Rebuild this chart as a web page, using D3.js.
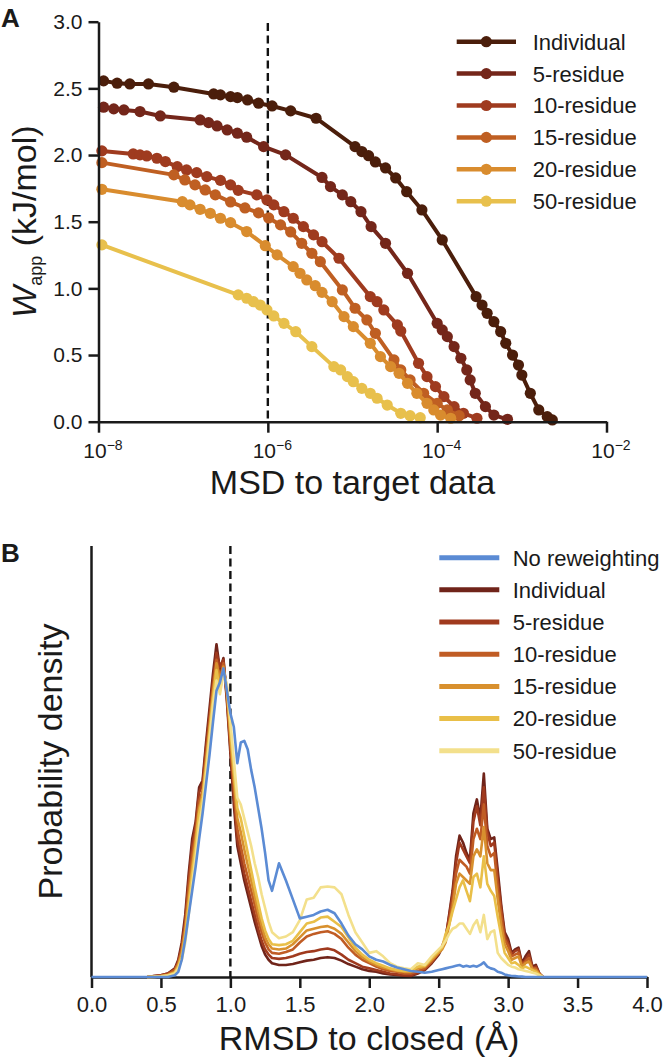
<!DOCTYPE html>
<html><head><meta charset="utf-8">
<script src="https://cdn.jsdelivr.net/npm/d3@7"></script>
<style>
html,body{margin:0;padding:0;background:#fff;}
svg{display:block;font-family:"Liberation Sans",Arial,Helvetica,sans-serif;}
</style></head><body>
<svg id="chart" width="666" height="1062"></svg>
<script>
// ---------------- Panel A data (log10 MSD, W_app kJ/mol) ----------------
const seriesNamesA = ["Individual","5-residue","10-residue","15-residue","20-residue","50-residue"];
const colorsA = ["#4b1e0b","#74261a","#9f3b1f","#bf5f22","#d98c2e","#e8c04c"];

const individualLogMSD = [-7.94,-7.78,-7.63,-7.41,-7.11,-6.64,-6.56,-6.44,-6.36,-6.24,-6.11,-5.95,-5.73,-5.43,-4.97,-4.89,-4.81,-4.73,-4.61,-4.49,-4.36,-4.18,-3.94,-3.54,-3.47,-3.41,-3.33,-3.25,-3.19,-3.11,-3.04,-3.00,-2.90,-2.80,-2.70,-2.64];
const individualW = [2.556,2.539,2.533,2.533,2.509,2.458,2.451,2.438,2.431,2.413,2.389,2.368,2.331,2.276,2.063,2.026,1.995,1.948,1.903,1.828,1.725,1.588,1.363,0.938,0.875,0.813,0.750,0.675,0.588,0.500,0.425,0.350,0.213,0.088,0.038,0.013];

const res5LogMSD = [-7.94,-7.82,-7.70,-7.51,-7.27,-6.80,-6.70,-6.60,-6.48,-6.36,-6.25,-6.05,-5.79,-5.36,-5.26,-5.12,-5.02,-4.90,-4.78,-4.61,-4.35,-4.00,-3.94,-3.88,-3.80,-3.72,-3.65,-3.61,-3.55,-3.43,-3.33,-3.17];
const res5W = [2.359,2.346,2.338,2.326,2.293,2.263,2.243,2.218,2.188,2.164,2.134,2.063,2.001,1.832,1.763,1.701,1.650,1.575,1.463,1.338,1.113,0.738,0.688,0.638,0.563,0.476,0.388,0.313,0.213,0.113,0.050,0.018];

const res10LogMSD = [-7.96,-7.59,-7.51,-7.43,-7.31,-7.21,-7.07,-6.96,-6.84,-6.72,-6.56,-6.44,-6.35,-6.13,-6.01,-5.93,-5.81,-5.70,-5.58,-5.46,-5.36,-5.16,-4.79,-4.71,-4.63,-4.47,-4.43,-4.22,-4.12,-4.02,-3.92,-3.80,-3.69,-3.53];
const res10W = [2.031,2.008,2.001,1.993,1.976,1.951,1.913,1.888,1.868,1.838,1.810,1.776,1.735,1.701,1.663,1.626,1.575,1.526,1.463,1.401,1.350,1.226,0.938,0.900,0.838,0.726,0.680,0.438,0.338,0.263,0.188,0.113,0.063,0.026];

const res15LogMSD = [-7.96,-7.11,-6.98,-6.86,-6.74,-6.62,-6.44,-6.27,-6.11,-5.99,-5.85,-5.73,-5.60,-5.48,-5.38,-5.12,-4.97,-4.83,-4.73,-4.51,-4.43,-4.32,-4.16,-4.00,-3.88,-3.74];
const res15W = [1.943,1.851,1.813,1.776,1.738,1.701,1.648,1.603,1.566,1.528,1.476,1.423,1.338,1.263,1.200,0.988,0.851,0.763,0.663,0.463,0.388,0.313,0.213,0.138,0.088,0.045];

const res20LogMSD = [-7.96,-7.01,-6.92,-6.80,-6.68,-6.56,-6.44,-6.25,-6.03,-5.89,-5.70,-5.62,-5.54,-5.44,-5.36,-5.24,-5.10,-4.99,-4.79,-4.67,-4.55,-4.45,-4.35,-4.24,-4.12,-4.04,-3.96,-3.84];
const res20W = [1.743,1.650,1.626,1.593,1.563,1.526,1.493,1.426,1.320,1.251,1.163,1.113,1.063,1.020,0.970,0.900,0.788,0.713,0.588,0.488,0.413,0.363,0.288,0.213,0.138,0.088,0.050,0.026];

const res50LogMSD = [-7.96,-6.35,-6.25,-6.17,-6.09,-6.01,-5.93,-5.81,-5.67,-5.48,-5.22,-5.14,-5.06,-4.99,-4.89,-4.79,-4.71,-4.59,-4.43,-4.32,-4.20];
const res50W = [1.326,0.951,0.926,0.900,0.875,0.838,0.793,0.738,0.675,0.563,0.413,0.388,0.338,0.300,0.250,0.213,0.176,0.125,0.063,0.045,0.030];

const yTicksA = [0,0.5,1.0,1.5,2.0,2.5,3.0];
const xTicksA = [1e-8,1e-6,1e-4,1e-2];
const xTickExpA = ["−8","−6","−4","−2"];
const targetMSD = 1e-6;

// ---------------- Panel B data (RMSD grid, probability density) ----------------
const seriesNamesB = ["No reweighting","Individual","5-residue","10-residue","15-residue","20-residue","50-residue"];
const colorsB = ["#5b8bd4","#70241a","#a03a1e","#c05c24","#d8902e","#e9bf48","#f3e08c"];
const xTicksB = [0,0.5,1.0,1.5,2.0,2.5,3.0,3.5,4.0];
const targetRMSD = 1.0;

const rmsdGrid = [0.0,
 0.40,0.45,0.50,0.55,0.60,
 0.625,0.65,0.675,0.70,0.725,0.75,0.775,0.80,0.825,0.85,0.875,0.90,0.925,0.95,0.975,1.00,1.025,1.05,1.075,1.10,1.125,1.15,1.175,1.20,1.225,1.25,1.275,1.30,
 1.35,1.40,1.45,1.50,1.55,1.60,1.65,1.70,1.75,1.80,1.85,1.90,1.95,2.00,2.05,2.10,2.15,2.20,2.25,2.30,2.35,2.40,2.45,2.50,
 2.525,2.55,2.575,2.60,2.625,2.65,2.675,2.70,2.725,2.75,2.775,2.80,2.825,2.85,2.875,2.90,2.925,2.95,2.975,3.00,3.025,3.05,3.075,3.10,3.125,3.15,3.175,3.20,3.225,3.25,
 4.0];

const densNoReweighting = [0,
 0,0,0,0,0.01,
 0.03,0.10,0.22,0.36,0.50,0.64,0.80,0.95,1.12,1.29,1.48,1.66,1.71,1.79,1.66,1.53,1.45,1.24,1.36,1.37,1.32,1.20,1.10,0.98,0.86,0.72,0.56,0.50,
 0.66,0.56,0.45,0.34,0.35,0.36,0.38,0.39,0.37,0.31,0.24,0.19,0.16,0.12,0.10,0.09,0.07,0.055,0.045,0.035,0.03,0.025,0.03,0.04,
 0.045,0.05,0.055,0.06,0.065,0.07,0.06,0.065,0.06,0.065,0.06,0.07,0.085,0.06,0.05,0.045,0.03,0.025,0.015,0.01,0.006,0.005,0.003,0.002,0,0,0,0,0,0,
 0];
const densIndividual = [null,
 0,0.005,0.01,0.02,0.05,
 0.10,0.20,0.36,0.60,0.80,0.90,1.10,1.14,1.36,1.56,1.76,1.93,1.78,1.85,1.60,1.30,1.00,0.76,0.66,0.56,0.48,0.40,0.32,0.25,0.18,0.13,0.10,0.08,
 0.07,0.07,0.075,0.085,0.095,0.10,0.11,0.115,0.11,0.095,0.075,0.06,0.045,0.035,0.03,0.02,0.015,0.012,0.008,0.006,0.02,0.04,0.08,0.13,
 0.17,0.22,0.36,0.50,0.70,0.82,0.78,0.72,0.68,0.95,1.03,0.92,1.18,0.86,0.80,0.81,0.62,0.42,0.26,0.22,0.14,0.16,0.17,0.08,0.12,0.15,0.06,0.07,0.02,0,
 null];
const densRes5 = [null,
 0,0.005,0.01,0.02,0.045,
 0.09,0.18,0.33,0.56,0.76,0.88,1.07,1.12,1.33,1.52,1.72,1.88,1.80,1.84,1.62,1.33,1.05,0.80,0.70,0.60,0.52,0.44,0.36,0.28,0.21,0.16,0.13,0.11,
 0.105,0.11,0.12,0.135,0.145,0.15,0.16,0.165,0.155,0.13,0.10,0.08,0.06,0.05,0.04,0.03,0.02,0.015,0.01,0.01,0.025,0.045,0.085,0.14,
 0.18,0.23,0.35,0.48,0.66,0.78,0.74,0.70,0.66,0.90,0.99,0.88,1.10,0.84,0.76,0.78,0.58,0.40,0.24,0.20,0.13,0.15,0.16,0.07,0.10,0.13,0.05,0.06,0.02,0,
 null];
const densRes10 = [null,
 0,0.003,0.008,0.015,0.04,
 0.08,0.16,0.30,0.52,0.70,0.84,1.02,1.08,1.28,1.48,1.68,1.84,1.74,1.82,1.64,1.36,1.10,0.86,0.76,0.66,0.58,0.50,0.42,0.33,0.26,0.20,0.16,0.14,
 0.135,0.145,0.16,0.20,0.235,0.25,0.26,0.265,0.25,0.22,0.17,0.13,0.10,0.08,0.06,0.045,0.035,0.03,0.02,0.02,0.035,0.05,0.09,0.14,
 0.17,0.21,0.32,0.44,0.60,0.68,0.66,0.64,0.60,0.80,0.86,0.80,1.00,0.76,0.70,0.72,0.52,0.36,0.22,0.18,0.12,0.13,0.14,0.07,0.09,0.11,0.05,0.05,0.02,0,
 null];
const densRes15 = [null,
 0,0.002,0.005,0.012,0.03,
 0.07,0.14,0.27,0.46,0.64,0.80,0.98,1.06,1.25,1.45,1.65,1.82,1.72,1.80,1.66,1.40,1.15,0.92,0.84,0.74,0.65,0.56,0.47,0.38,0.30,0.23,0.19,0.165,
 0.16,0.165,0.19,0.23,0.27,0.28,0.29,0.295,0.28,0.25,0.20,0.15,0.115,0.09,0.07,0.055,0.045,0.035,0.03,0.03,0.05,0.06,0.10,0.14,
 0.16,0.20,0.30,0.40,0.54,0.60,0.58,0.56,0.54,0.70,0.74,0.70,0.87,0.66,0.62,0.62,0.45,0.30,0.19,0.15,0.10,0.11,0.12,0.06,0.08,0.09,0.045,0.04,0.015,0,
 null];
const densRes20 = [null,
 0,0.002,0.004,0.01,0.025,
 0.06,0.12,0.24,0.42,0.60,0.76,0.95,1.04,1.22,1.42,1.62,1.78,1.66,1.78,1.68,1.44,1.20,0.98,0.92,0.82,0.72,0.62,0.52,0.43,0.34,0.27,0.22,0.19,
 0.185,0.19,0.21,0.26,0.31,0.32,0.345,0.35,0.32,0.29,0.23,0.17,0.13,0.10,0.08,0.065,0.05,0.04,0.035,0.035,0.06,0.065,0.11,0.15,
 0.17,0.25,0.30,0.38,0.45,0.52,0.56,0.50,0.44,0.58,0.60,0.52,0.70,0.54,0.50,0.47,0.35,0.24,0.14,0.11,0.08,0.085,0.07,0.05,0.06,0.05,0.04,0.03,0.012,0,
 null];
const densRes50 = [null,
 0,0.001,0.003,0.008,0.02,
 0.05,0.10,0.20,0.36,0.54,0.70,0.88,1.00,1.18,1.38,1.58,1.72,1.64,1.76,1.70,1.48,1.26,1.04,1.00,0.92,0.84,0.76,0.66,0.58,0.48,0.40,0.32,0.26,
 0.225,0.235,0.26,0.33,0.45,0.46,0.52,0.525,0.52,0.48,0.36,0.26,0.20,0.14,0.15,0.12,0.08,0.06,0.05,0.045,0.08,0.07,0.12,0.16,
 0.18,0.21,0.25,0.28,0.29,0.31,0.31,0.28,0.25,0.30,0.33,0.26,0.36,0.22,0.26,0.27,0.14,0.11,0.09,0.07,0.06,0.055,0.045,0.04,0.035,0.03,0.025,0.02,0.01,0,
 null];

// ---------------- Drawing ----------------
const svg = d3.select("#chart");
const INK = "#1a1a1a";

// ===== Panel A =====
const xA = d3.scaleLog().domain([1e-8,1e-2]).range([98.5,606.5]);
const yA = d3.scaleLinear().domain([0,3]).range([421.7,21.7]);
const gA = svg.append("g");

const logsA = [individualLogMSD,res5LogMSD,res10LogMSD,res15LogMSD,res20LogMSD,res50LogMSD];
const wsA = [individualW,res5W,res10W,res15W,res20W,res50W];
const seriesA = seriesNamesA.map((name,i)=>({
  name, color: colorsA[i],
  pts: logsA[i].map((l,j)=>({x: Math.pow(10,l), y: wsA[i][j]}))
}));

// dashed target line
gA.append("line")
  .attr("x1", xA(targetMSD)).attr("x2", xA(targetMSD))
  .attr("y1", yA(2.99)).attr("y2", yA(0))
  .attr("stroke", "#111").attr("stroke-width", 2.4).attr("stroke-dasharray", "8,4.5");

const lineA = d3.line().x(d=>xA(d.x)).y(d=>yA(d.y));
seriesA.forEach(s=>{
  const g = gA.append("g");
  g.append("path").datum(s.pts).attr("d", lineA)
    .attr("fill","none").attr("stroke", s.color).attr("stroke-width", 4).attr("stroke-linejoin","round");
  g.selectAll("circle").data(s.pts).join("circle")
    .attr("cx", d=>xA(d.x)).attr("cy", d=>yA(d.y)).attr("r", 5.6).attr("fill", s.color);
});

// axes A
const axLA = gA.append("g").attr("transform","translate(98.5,0)")
  .call(d3.axisLeft(yA).tickValues(yTicksA).tickFormat(d3.format(".1f")).tickSize(10).tickPadding(6).tickSizeOuter(0));
const axBA = gA.append("g").attr("transform","translate(0,421.7)")
  .call(d3.axisBottom(xA).tickValues(xTicksA).tickFormat(()=>"").tickSize(11).tickSizeOuter(0));
[axLA, axBA].forEach(ax=>{
  ax.select(".domain").attr("stroke", INK).attr("stroke-width", 2.5);
  ax.selectAll(".tick line").attr("stroke", INK).attr("stroke-width", 2.5);
  ax.selectAll("text").attr("fill", INK).attr("font-size", 21).attr("font-family", null);
});
axBA.selectAll(".tick").each(function(d,i){
  const t = d3.select(this).select("text").attr("x", 4).attr("y", 36.5).attr("dy", 0).attr("text-anchor","middle");
  t.text(null);
  t.append("tspan").text("10");
  t.append("tspan").attr("dy", -8).attr("font-size", 14).text(xTickExpA[i]);
});

// labels A
gA.append("text").attr("x", 352.5).attr("y", 494).attr("text-anchor","middle")
  .attr("font-size", 34).attr("fill", INK).text("MSD to target data");
const ylA = gA.append("text").attr("transform","translate(36,221.7) rotate(-90)")
  .attr("text-anchor","middle").attr("font-size", 34).attr("fill", INK);
ylA.append("tspan").attr("font-style","italic").text("W");
ylA.append("tspan").attr("font-size", 18).attr("dy", 6).text("app");
ylA.append("tspan").attr("dy", -6).text(" (kJ/mol)");
svg.append("text").attr("x", 1).attr("y", 27).attr("font-size", 26).attr("font-weight","bold").attr("fill", INK).text("A");

// legend A
const legA = gA.append("g");
seriesA.forEach((s,i)=>{
  const y = 41.7 + i*31.9;
  legA.append("line").attr("x1",456.7).attr("x2",516).attr("y1",y).attr("y2",y)
    .attr("stroke", s.color).attr("stroke-width", 4.5);
  legA.append("circle").attr("cx",486.3).attr("cy",y).attr("r",5.6).attr("fill", s.color);
  legA.append("text").attr("x",532.7).attr("y",y).attr("dy","0.36em")
    .attr("font-size",22).attr("fill",INK).text(s.name);
});

// ===== Panel B =====
const xB = d3.scaleLinear().domain([0,4]).range([91.5,647]);
const yB = d3.scaleLinear().domain([0,2.5]).range([977,546]);
const gB = svg.append("g");

const densB = [densNoReweighting,densIndividual,densRes5,densRes10,densRes15,densRes20,densRes50];
const seriesB = seriesNamesB.map((name,i)=>({
  name, color: colorsB[i],
  pts: rmsdGrid.map((x,j)=>({x, y: densB[i][j]}))
}));

// axes B (drawn below data)
gB.append("line").attr("x1",91.5).attr("x2",91.5).attr("y1",546).attr("y2",977)
  .attr("stroke",INK).attr("stroke-width",2.5);
const axBB = gB.append("g").attr("transform","translate(0,977)")
  .call(d3.axisBottom(xB).tickValues(xTicksB).tickFormat(d3.format(".1f")).tickSize(11).tickSizeOuter(0));
axBB.select(".domain").attr("stroke", INK).attr("stroke-width", 2.5);
axBB.selectAll(".tick line").attr("stroke", INK).attr("stroke-width", 2.5);
axBB.selectAll("text").attr("fill", INK).attr("font-size", 22).attr("font-family", null)
  .attr("y", 35).attr("dy", 0);

gB.append("line")
  .attr("x1", xB(targetRMSD)).attr("x2", xB(targetRMSD))
  .attr("y1", 546).attr("y2", 977)
  .attr("stroke", "#111").attr("stroke-width", 2.4).attr("stroke-dasharray", "8,4.5");

const lineB = d3.line().defined(d=>d.y!=null).x(d=>xB(d.x)).y(d=>yB(d.y));
// reweighted first, no-reweighting on top
[1,2,3,4,5,6,0].forEach(i=>{
  gB.append("path").datum(seriesB[i].pts).attr("d", lineB)
    .attr("fill","none").attr("stroke", seriesB[i].color).attr("stroke-width", 2.6)
    .attr("stroke-linejoin","round");
});

gB.append("text").attr("x", 369).attr("y", 1050).attr("text-anchor","middle")
  .attr("font-size", 34).attr("fill", INK).text("RMSD to closed (Å)");
gB.append("text").attr("transform","translate(62,761.5) rotate(-90)")
  .attr("text-anchor","middle").attr("font-size", 34).attr("fill", INK).text("Probability density");
svg.append("text").attr("x", 1).attr("y", 562).attr("font-size", 26).attr("font-weight","bold").attr("fill", INK).text("B");

const legB = gB.append("g");
seriesB.forEach((s,i)=>{
  const y = 557.7 + i*32.17;
  legB.append("line").attr("x1",439.3).attr("x2",499.3).attr("y1",y).attr("y2",y)
    .attr("stroke", s.color).attr("stroke-width", 5);
  legB.append("text").attr("x",512.7).attr("y",y).attr("dy","0.36em")
    .attr("font-size",22).attr("fill",INK).text(s.name);
});
</script></body></html>
